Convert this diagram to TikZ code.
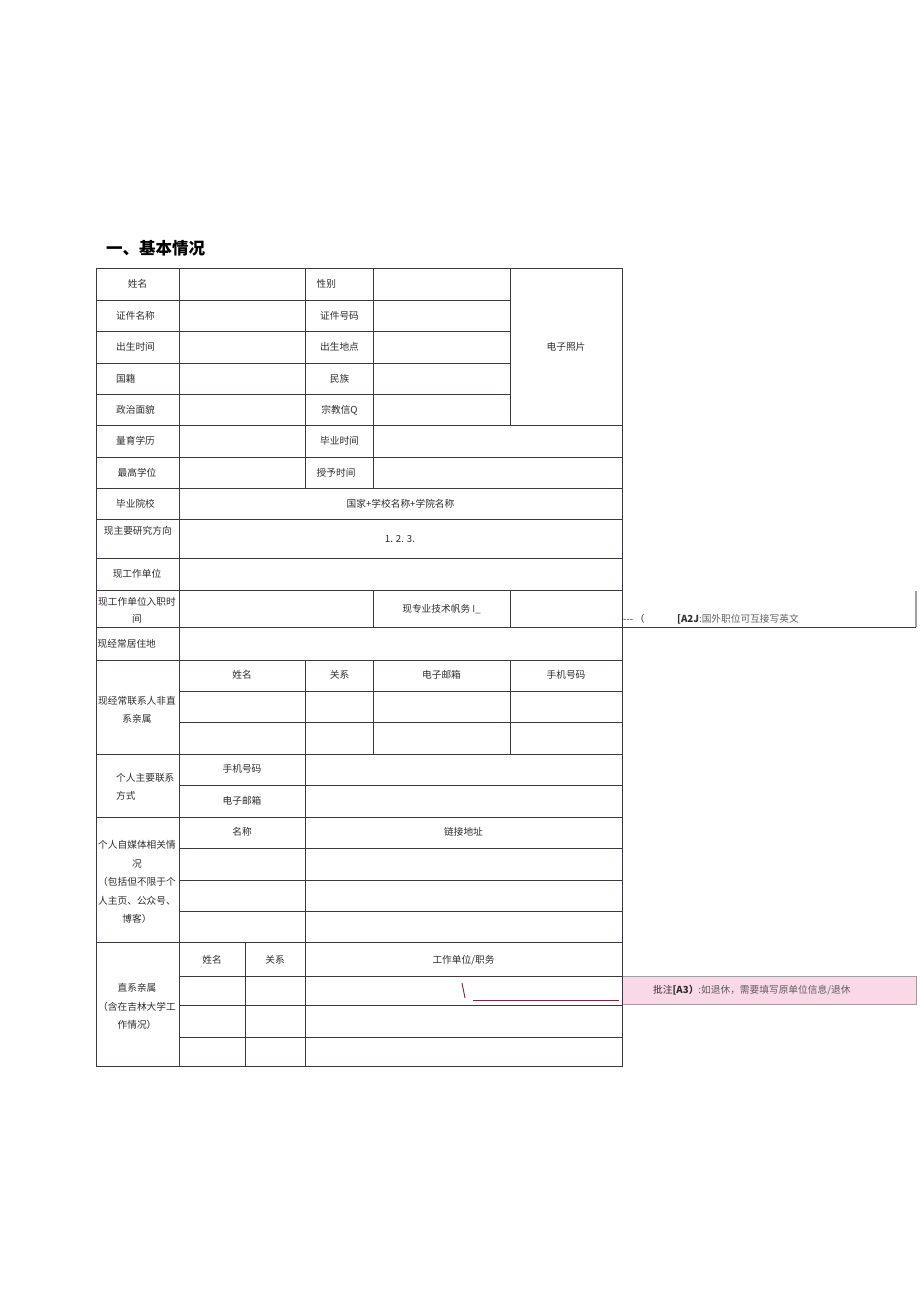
\documentclass[tikz,border=0pt]{standalone}
\usepackage{fontspec}
\setmainfont{Noto Sans CJK SC}
\usepackage{tikz}
\usetikzlibrary{positioning}
\definecolor{tabline}{RGB}{64,56,64}
\definecolor{notepink}{RGB}{249,216,232}
\definecolor{noteedge}{RGB}{165,155,165}
\definecolor{markred}{RGB}{125,40,65}
\definecolor{txt}{RGB}{45,45,45}
\definecolor{notegrey}{RGB}{95,95,95}

\begin{document}
\begin{tikzpicture}[x=1pt, y=-1pt,
    every node/.append style={inner sep=0pt, text=txt,
      font=\fontsize{9.7}{18.5}\selectfont},
    grid/.style={draw=tabline, line width=0.9pt},
    cellc/.style={anchor=center, align=center},
    cellw/.style={anchor=west, align=left}]
  \useasboundingbox (0,0) rectangle (920,1301);

  \node[anchor=west, text=black, font=\fontsize{16.5}{18}\selectfont\bfseries] (title) at (106,248) {一、基本情况};

  % comments (A2, A3)
  \draw[draw=noteedge, fill=notepink, line width=0.8pt] (622,976) rectangle (916,1004);
  \coordinate (notetwostart) at (622,627);
  \coordinate (notetwoend) at (916,627);
  \coordinate (notetwotop) at (916,591);
  \draw[tabline, line width=0.8pt] (notetwostart) -- (notetwoend);
  \draw[noteedge, line width=1.8pt] (notetwotop) -- (notetwoend);
  \node[cellw] (notetwoa) at (623,619) {-{}-{}-\,（};
  \node[cellw] (notetwob) at (677,619) {{\bfseries [A2J}\textcolor{notegrey}{:国外职位可互接写英文}};
  \node[cellw] (notethree) at (653,990.5) {批注{\bfseries [A3）}\textcolor{notegrey}{:如退休，需要填写原单位信息/退休}};

  % table grid
  \foreach \y in {300,331,363,394}
    \draw[grid] (96,\y) -- (510,\y);
  \foreach \y in {425,457,488,519,558,590,627,660,754,817,942}
    \draw[grid] (96,\y) -- (622,\y);
  \foreach \y in {691,722,785,848,880,911,976,1005,1037}
    \draw[grid] (179,\y) -- (622,\y);
  \draw[grid] (179,268) -- (179,1066);
  \draw[grid] (305,268) -- (305,488) (305,660) -- (305,1066);
  \draw[grid] (373,268) -- (373,488) (373,590) -- (373,627) (373,660) -- (373,754);
  \draw[grid] (510,268) -- (510,425) (510,590) -- (510,627) (510,660) -- (510,754);
  \draw[grid] (245,942) -- (245,1066);
  \draw[grid] (96,268) rectangle (622,1066);

  % first column
  \node[cellc] (xm) at (137.5,284) {姓名};
  \node[cellc] (zjmc) at (135.5,316) {证件名称};
  \node[cellc] (cssj) at (135.5,347) {出生时间};
  \node[cellw] (gj) at (116,378.5) {国籍};
  \node[cellc] (zzmm) at (135.5,410) {政治面貌};
  \node[cellc] (xl) at (135.5,441) {量育学历};
  \node[cellc] (xw) at (137,472.5) {最高学位};
  \node[cellc] (yx) at (135.5,503.5) {毕业院校};
  \node[cellc] (yjfx) at (137.8,531) {现主要研究方向};
  \node[cellc] (gzdw) at (137,574) {现工作单位};
  \node[cellc, font=\fontsize{9.7}{17}\selectfont] (rzsj) at (137,610.5) {现工作单位入职时\\间};
  \node[cellw] (jzd) at (97.5,643.5) {现经常居住地};
  \node[cellc] (lxr) at (137,710) {现经常联系人非直\\系亲属};
  \node[cellw] (lxfs) at (116,787) {个人主要联系\\方式};
  \node[cellc] (zmt) at (137,882) {个人自媒体相关情\\况\\（包括但不限于个\\人主页、公众号、\\博客）};
  \node[cellc] (zxqs) at (137,1006.5) {直系亲属\\（含在吉林大学工\\作情况）};

  % third column
  \node[cellw] (xb) at (316.5,284) {性别};
  \node[cellc] (zjhm) at (339.5,316) {证件号码};
  \node[cellc] (csdd) at (339.5,347) {出生地点};
  \node[cellc] (mz) at (339.5,378.5) {民族};
  \node[cellc] (zjxy) at (339.5,410) {宗教信Q};
  \node[cellc] (bysj) at (339.5,441) {毕业时间};
  \node[cellw] (sysj) at (316.5,472.5) {授予时间};
  \node[cellc] (zp) at (566,347) {电子照片};

  \node[cellc] (yxmc) at (400.5,503.5) {国家+学校名称+学院名称};
  \node[cellc] (fx) at (400,539) {1. 2. 3.};
  \node[cellc] (zw) at (441.5,608.7) {现专业技术帆务 \textcolor{markred}{I\_}};

  % contacts
  \node[cellc] (lxxm) at (242,675) {姓名};
  \node[cellc] (lxgx) at (339.5,675) {关系};
  \node[cellc] (lxyx) at (441.5,675) {电子邮箱};
  \node[cellc] (lxsj) at (566,675) {手机号码};
  \node[cellc] (grsj) at (242,769) {手机号码};
  \node[cellc] (gryx) at (242,800.7) {电子邮箱};
  \node[cellc] (mtmc) at (242,832) {名称};
  \node[cellc] (mtdz) at (463.5,832) {链接地址};
  \node[cellc] (qsxm) at (212,960) {姓名};
  \node[cellc] (qsgx) at (275,960) {关系};
  \node[cellc] (qsdw) at (463.5,960) {工作单位/职务};

  % track marks in the cell
  \coordinate (slasha) at (462,983);
  \coordinate (slashb) at (465,998);
  \coordinate (ulinea) at (473,1000.7);
  \coordinate (ulineb) at (619,1000.7);
  \draw[markred, line width=0.9pt] (slasha) -- (slashb);
  \draw[markred, line width=0.8pt] (ulinea) -- (ulineb);
\end{tikzpicture}
\end{document}
